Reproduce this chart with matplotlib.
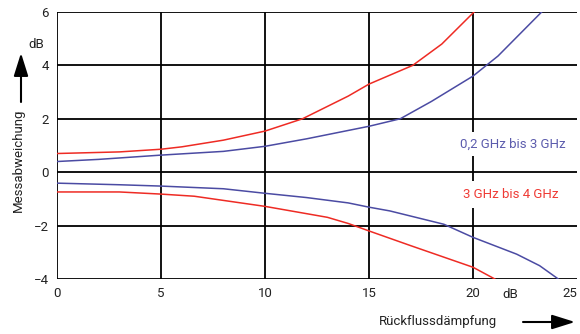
import matplotlib
matplotlib.use("Agg")
import matplotlib.pyplot as plt
from matplotlib.patches import FancyArrowPatch

# Return loss (dB) vs. measurement deviation (dB)
x_blue_up = [0, 2, 5, 8, 10, 12, 15, 16.5, 18, 20, 21.2, 23.3]
y_blue_up = [0.40, 0.48, 0.64, 0.78, 0.97, 1.25, 1.72, 2.0, 2.65, 3.6, 4.35, 6.0]

x_red_up = [0, 3, 5, 6, 8, 10, 11.8, 14, 15, 17.1, 18.5, 20.05]
y_red_up = [0.70, 0.76, 0.86, 0.95, 1.20, 1.54, 2.0, 2.85, 3.3, 4.0, 4.8, 6.0]

x_blue_lo = [0, 3, 5, 8, 10, 12, 14, 15, 16, 18.6, 20, 22.1, 23.2, 24.1]
y_blue_lo = [-0.41, -0.47, -0.52, -0.62, -0.79, -0.95, -1.15, -1.31, -1.45, -1.95, -2.44, -3.07, -3.5, -4.0]

x_red_lo = [0, 3, 5, 6.6, 10, 13, 14, 15, 17, 20, 21.05]
y_red_lo = [-0.74, -0.74, -0.82, -0.90, -1.28, -1.69, -1.92, -2.2, -2.75, -3.56, -4.0]

x_ticks = [0, 5, 10, 15, 20, 25]
y_ticks = [-4, -2, 0, 2, 4, 6]
y_tick_labels = ["\u22124", "\u22122", "0", "2", "4", "6"]

label_blue = "0,2 GHz bis 3 GHz"
label_red = "3 GHz bis 4 GHz"

BLUE = "#4b4ba3"
RED = "#ee2b24"
BLUE_TXT = "#5c5cad"
RED_TXT = "#ef3b35"
TXT = "#222222"
FS = 9.5

plt.rcParams["font.family"] = ["Roboto", "DejaVu Sans"]

W, H = 580, 334
fig = plt.figure(figsize=(W / 100, H / 100), dpi=100)
L, R, T, B = 57, 577, 12, 279
ax = fig.add_axes([L / W, 1 - B / H, (R - L) / W, (B - T) / H])
ax.set_xlim(0, 25)
ax.set_ylim(-4, 6)

for yv in y_ticks:
    ax.axhline(yv, color="black", lw=1.3, zorder=1)
for xv in x_ticks[:-1]:
    ax.axvline(xv, color="black", lw=1.3, zorder=1)

ax.plot(x_blue_up, y_blue_up, color=BLUE, lw=1.1, zorder=3)
ax.plot(x_blue_lo, y_blue_lo, color=BLUE, lw=1.1, zorder=3)
ax.plot(x_red_up, y_red_up, color=RED, lw=1.1, zorder=3)
ax.plot(x_red_lo, y_red_lo, color=RED, lw=1.1, zorder=3)

for s in ax.spines.values():
    s.set_visible(False)

ax.set_xticks(x_ticks)
ax.set_xticklabels([str(v) for v in x_ticks])
ax.set_yticks(y_ticks)
ax.set_yticklabels(y_tick_labels)
ax.tick_params(length=0, labelsize=FS, colors=TXT, pad=6)
xt = ax.get_xticklabels()
xt[-1].set_ha("right")

# unit labels
fig.text(510 / W, 1 - 294 / H, "dB", ha="center", va="center", fontsize=FS, color=TXT)
fig.text(36 / W, 1 - 44 / H, "dB", ha="center", va="center", fontsize=FS, color=TXT)

# series labels on white boxes
ax.text(21.9, 1.05, label_blue, color=BLUE_TXT, fontsize=FS, ha="center", va="center",
        zorder=4, bbox=dict(facecolor="white", edgecolor="none", pad=4))
ax.text(21.8, -0.82, label_red, color=RED_TXT, fontsize=FS, ha="center", va="center",
        zorder=4, bbox=dict(facecolor="white", edgecolor="none", pad=5))

# axis titles with arrows
fig.text(18 / W, 1 - 160 / H, "Messabweichung", rotation=90, ha="center", va="center",
         fontsize=FS, color=TXT)
fig.text(438 / W, 1 - 322 / H, "R\u00fcckflussd\u00e4mpfung", ha="center", va="center",
         fontsize=FS, color=TXT)

style = "-|>,head_length=7,head_width=2.2"
fig.add_artist(FancyArrowPatch(
    (21 / W, 1 - 102 / H), (21 / W, 1 - 53 / H), transform=fig.transFigure,
    arrowstyle=style, color="black", lw=1.5, mutation_scale=2, shrinkA=0, shrinkB=0))
fig.add_artist(FancyArrowPatch(
    (523 / W, 1 - 322 / H), (575 / W, 1 - 322 / H), transform=fig.transFigure,
    arrowstyle=style, color="black", lw=1.5, mutation_scale=2, shrinkA=0, shrinkB=0))

fig.savefig("out.png", dpi=100)
